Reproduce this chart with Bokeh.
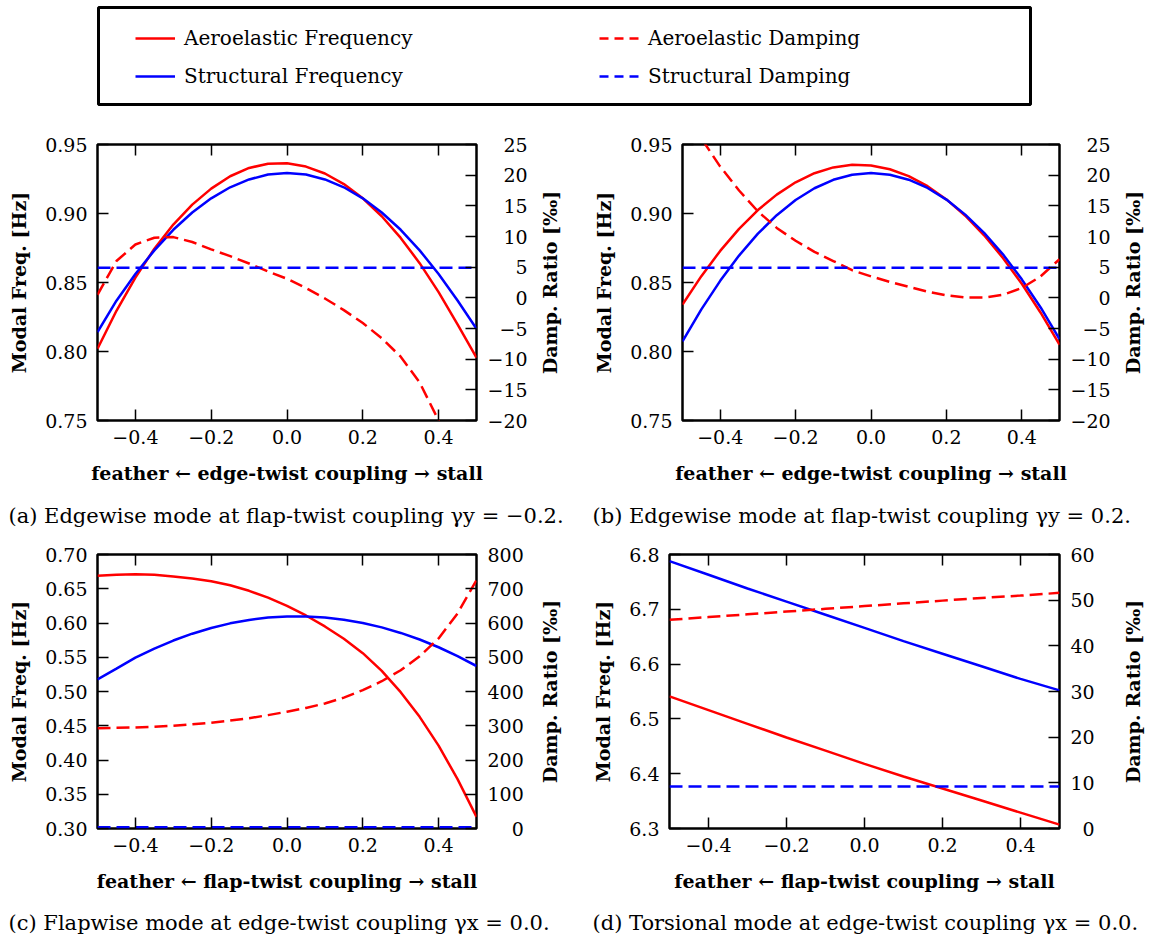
import math
from bokeh.plotting import figure
from bokeh.models import Range1d, LinearAxis, FixedTicker, Legend, LegendItem, Label, BoxAnnotation
from bokeh.layouts import column, row
from bokeh.embed import file_html
from bokeh.resources import INLINE

FONT = "DejaVu Serif"
RED = "#ff0000"
BLUE = "#0000ff"

# ---------------- data ----------------
coupling = [-0.50, -0.45, -0.40, -0.35, -0.30, -0.25, -0.20, -0.15, -0.10, -0.05, 0.00,
            0.05, 0.10, 0.15, 0.20, 0.25, 0.30, 0.35, 0.40, 0.45, 0.50]
coupling_d = [-0.5, -0.4, -0.3, -0.2, -0.1, 0.0, 0.1, 0.2, 0.3, 0.4, 0.5]

# (a) edgewise mode, flap-twist coupling -0.2
a_aero_freq = [0.802, 0.8295, 0.8535, 0.8745, 0.892, 0.9064, 0.918, 0.927, 0.933, 0.9361, 0.9364,
               0.934, 0.929, 0.9213, 0.911, 0.898, 0.8823, 0.864, 0.843, 0.8196, 0.7955]
a_struct_freq = [0.814, 0.8368, 0.8562, 0.8733, 0.8882, 0.9007, 0.911, 0.919, 0.9247, 0.9282, 0.9293,
                 0.9282, 0.9247, 0.919, 0.911, 0.9007, 0.8882, 0.8733, 0.8562, 0.837, 0.8164]
a_aero_damp = [0.5, 6.0, 8.7, 9.8, 9.9, 9.1, 7.9, 6.8, 5.6, 4.3, 3.1,
               1.6, -0.1, -2.0, -4.1, -6.6, -9.6, -13.8, -20.0, -28.0, -37.0]
a_struct_damp = [4.9] * 21

# (b) edgewise mode, flap-twist coupling 0.2
b_aero_freq = [0.834, 0.8546, 0.8729, 0.8889, 0.9025, 0.9137, 0.9226, 0.9292, 0.9334, 0.9353, 0.9348,
               0.9321, 0.9271, 0.9198, 0.9102, 0.8984, 0.8842, 0.8678, 0.8491, 0.8281, 0.8049]
b_struct_freq = [0.8073, 0.8305, 0.8512, 0.8695, 0.8854, 0.8988, 0.9098, 0.9183, 0.9244, 0.9281, 0.9293,
                 0.9281, 0.9245, 0.9185, 0.9101, 0.8992, 0.886, 0.8704, 0.8523, 0.8319, 0.809]
b_aero_damp = [31.0, 26.0, 21.4, 17.5, 14.1, 11.4, 9.3, 7.5, 6.0, 4.5, 3.5,
               2.6, 1.8, 1.0, 0.4, 0.05, 0.05, 0.5, 1.6, 3.5, 6.3]
b_struct_damp = [4.9] * 21

# (c) flapwise mode, edge-twist coupling 0.0
c_aero_freq = [0.669, 0.6705, 0.671, 0.6705, 0.668, 0.665, 0.661, 0.655, 0.647, 0.637, 0.625,
               0.611, 0.595, 0.577, 0.556, 0.530, 0.499, 0.463, 0.421, 0.372, 0.317]
c_struct_freq = [0.5176, 0.5334, 0.5494, 0.5627, 0.5744, 0.5844, 0.5928, 0.5995, 0.6045, 0.6079, 0.6096,
                 0.6096, 0.608, 0.6048, 0.6, 0.5936, 0.5855, 0.5759, 0.5646, 0.5517, 0.5372]
c_aero_damp = [293, 294, 295, 297, 300, 304, 309, 315, 322, 331, 341,
               352, 365, 382, 404, 430, 462, 503, 555, 628, 725]
c_struct_damp = [4.0] * 21

# (d) torsional mode, edge-twist coupling 0.0
d_aero_freq = [6.541, 6.516, 6.491, 6.466, 6.442, 6.418, 6.395, 6.373, 6.351, 6.329, 6.307]
d_struct_freq = [6.788, 6.763, 6.738, 6.714, 6.690, 6.666, 6.642, 6.619, 6.596, 6.573, 6.552]
d_aero_damp = [45.7, 46.3, 46.9, 47.5, 48.1, 48.7, 49.3, 49.9, 50.5, 51.0, 51.6]
d_struct_damp = [9.2] * 11

# ticks
x_ticks = [-0.4, -0.2, 0.0, 0.2, 0.4]
x_tick_labels = ["−0.4", "−0.2", "0.0", "0.2", "0.4"]
ab_freq_ticks = [0.75, 0.80, 0.85, 0.90, 0.95]
ab_freq_labels = ["0.75", "0.80", "0.85", "0.90", "0.95"]
ab_damp_ticks = [-20, -15, -10, -5, 0, 5, 10, 15, 20, 25]
ab_damp_labels = ["−20", "−15", "−10", "−5", "0", "5", "10", "15", "20", "25"]
c_freq_ticks = [0.30, 0.35, 0.40, 0.45, 0.50, 0.55, 0.60, 0.65, 0.70]
c_freq_labels = ["0.30", "0.35", "0.40", "0.45", "0.50", "0.55", "0.60", "0.65", "0.70"]
c_damp_ticks = [0, 100, 200, 300, 400, 500, 600, 700, 800]
c_damp_labels = ["0", "100", "200", "300", "400", "500", "600", "700", "800"]
d_freq_ticks = [6.3, 6.4, 6.5, 6.6, 6.7, 6.8]
d_freq_labels = ["6.3", "6.4", "6.5", "6.6", "6.7", "6.8"]
d_damp_ticks = [0, 10, 20, 30, 40, 50, 60]
d_damp_labels = ["0", "10", "20", "30", "40", "50", "60"]

legend_labels = ["Aeroelastic Frequency", "Structural Frequency",
                 "Aeroelastic Damping", "Structural Damping"]
captions = ["(a) Edgewise mode at flap-twist coupling γy = −0.2.",
            "(b) Edgewise mode at flap-twist coupling γy = 0.2.",
            "(c) Flapwise mode at edge-twist coupling γx = 0.0.",
            "(d) Torsional mode at edge-twist coupling γx = 0.0."]

TICK_FS = "19px"
LABEL_FS = "19px"
CAP_FS = "21px"
DASH = "13 6"
LW = 2.5


def right_align(labels):
    """Pad right-axis labels with figure/thin spaces so they line up on the right."""
    def w(s):
        return sum(0.838 if ch == "−" else 0.636 for ch in s)
    wmax = max(w(s) for s in labels)
    out = []
    for s in labels:
        d = wmax - w(s)
        n_fig = int(d / 0.636 + 1e-6)
        n_thin = int(round((d - n_fig * 0.636) / 0.2))
        out.append("\u2007" * n_fig + "\u2009" * n_thin + s)
    return out


def style_axis(ax, ticks, labels, show_labels=True):
    ax.ticker = FixedTicker(ticks=ticks)
    ax.axis_line_color = None
    ax.major_tick_in = 11
    ax.major_tick_out = 0
    ax.major_tick_line_color = "black"
    ax.major_tick_line_width = 1.5
    ax.minor_tick_line_color = None
    ax.major_label_text_font = FONT
    ax.major_label_text_color = "black"
    ax.axis_label_text_font = FONT
    ax.axis_label_text_font_size = LABEL_FS
    ax.axis_label_text_font_style = "bold"
    ax.axis_label_text_color = "black"
    if show_labels:
        ax.major_label_overrides = dict(zip(ticks, labels))
        ax.major_label_text_font_size = TICK_FS
    else:
        ax.major_label_overrides = {t: "" for t in ticks}
        ax.major_label_text_font_size = "0px"
        ax.major_label_standoff = 0


def blank(width, height, xr=(0, 1), yr=(0, 1)):
    """An empty drawing area (no axes) whose frame covers the whole canvas."""
    f = figure(width=width, height=height, x_range=Range1d(*xr), y_range=Range1d(*yr),
               output_backend="svg", toolbar_location=None, min_border=0,
               x_axis_location=None, y_axis_location=None)
    f.grid.visible = False
    f.outline_line_color = None
    f.background_fill_color = "white"
    f.border_fill_color = "white"
    return f


def panel(width, height, borders, ylim, yrlim, lticks, llabels, rticks, rlabels,
          xlabel, xs, series):
    bl, br, bt, bb = borders
    p = figure(width=width, height=height, x_range=Range1d(-0.5, 0.5), y_range=Range1d(*ylim),
               output_backend="svg", toolbar_location=None,
               min_border_left=bl, min_border_right=br, min_border_top=bt, min_border_bottom=bb)
    p.extra_y_ranges = {"damp": Range1d(*yrlim)}
    p.grid.visible = False
    p.outline_line_color = "black"
    p.outline_line_width = 2.5
    p.outline_line_alpha = 1.0
    p.background_fill_color = "white"
    p.border_fill_color = "white"

    bottom = p.below[0]
    left = p.left[0]
    right = LinearAxis(y_range_name="damp")
    top = LinearAxis()
    p.add_layout(right, "right")
    p.add_layout(top, "above")

    style_axis(bottom, x_ticks, x_tick_labels)
    style_axis(top, x_ticks, x_tick_labels, show_labels=False)
    style_axis(left, lticks, llabels)
    style_axis(right, rticks, right_align(rlabels))

    bottom.axis_label = xlabel
    bottom.major_label_standoff = 9
    bottom.axis_label_standoff = 15
    left.axis_label = "Modal Freq. [Hz]"
    left.major_label_standoff = 10
    left.axis_label_standoff = 12
    right.major_label_standoff = 11

    af, sf, ad, sd = series
    p.line(xs, af, color=RED, line_width=LW)
    p.line(xs, sf, color=BLUE, line_width=LW)
    p.line(xs, ad, color=RED, line_width=LW, line_dash=DASH, y_range_name="damp")
    p.line(xs, sd, color=BLUE, line_width=LW, line_dash=DASH, y_range_name="damp")
    return p


def right_title(width, height, x, y):
    # NB: inside a row the frame of this strip is aligned with the panels' frames
    s = blank(width, height)
    s.add_layout(Label(x=x, y=y, x_units="screen", y_units="screen",
                       text="Damp. Ratio [‰]", angle=math.pi / 2, text_align="center",
                       text_baseline="middle", text_font=FONT, text_font_size=LABEL_FS,
                       text_font_style="bold", text_color="black"))
    return s


def caption_strip(height, y, texts, xs):
    s = blank(1151, height)
    for t, x in zip(texts, xs):
        s.add_layout(Label(x=x, y=y, x_units="screen", y_units="screen", text=t,
                           text_align="left", text_baseline="middle", text_font=FONT,
                           text_font_size=CAP_FS, text_color="black"))
    return s


# row 1: y 125..495 ; frames at y 144..420
fa = panel(530, 370, (97, 54, 19, 75), (0.75, 0.95), (-20, 25), ab_freq_ticks, ab_freq_labels,
           ab_damp_ticks, ab_damp_labels, "feather ← edge-twist coupling → stall", coupling,
           (a_aero_freq, a_struct_freq, a_aero_damp, a_struct_damp))
sa = right_title(50, 370, 19, 138)
fb = panel(535, 370, (102, 56, 19, 75), (0.75, 0.95), (-20, 25), ab_freq_ticks, ab_freq_labels,
           ab_damp_ticks, ab_damp_labels, "feather ← edge-twist coupling → stall", coupling,
           (b_aero_freq, b_struct_freq, b_aero_damp, b_struct_damp))
sb = right_title(36, 370, 17, 138)
cap1 = caption_strip(40, 20, captions[:2], [8, 592])

# row 2: y 535..897 ; frames at y 554..828
fc = panel(530, 362, (97, 54, 19, 69), (0.30, 0.70), (0, 800), c_freq_ticks, c_freq_labels,
           c_damp_ticks, c_damp_labels, "feather ← flap-twist coupling → stall", coupling,
           (c_aero_freq, c_struct_freq, c_aero_damp, c_struct_damp))
sc = right_title(50, 362, 19, 137)
fd = panel(535, 362, (89, 56, 19, 69), (6.3, 6.8), (0, 60), d_freq_ticks, d_freq_labels,
           d_damp_ticks, d_damp_labels, "feather ← flap-twist coupling → stall", coupling_d,
           (d_aero_freq, d_struct_freq, d_aero_damp, d_struct_damp))
sd_ = right_title(36, 362, 17, 137)
cap2 = caption_strip(39, 14, captions[2:], [8, 592])

# ---------------- legend box ----------------
# ranges chosen far away from the data, so the legend renderers stay invisible
lg = blank(1151, 125, xr=(10, 11), yr=(10, 11))
lg.add_layout(BoxAnnotation(left=98, right=1030, bottom=21, top=118,
                            left_units="screen", right_units="screen",
                            bottom_units="screen", top_units="screen",
                            fill_alpha=0.0, line_color="black", line_alpha=1.0, line_width=3))
r1 = lg.line(coupling, a_aero_freq, color=RED, line_width=LW)
r2 = lg.line(coupling, a_struct_freq, color=BLUE, line_width=LW)
r3 = lg.line(coupling, a_aero_damp, color=RED, line_width=LW, line_dash="9 6")
r4 = lg.line(coupling, a_struct_damp, color=BLUE, line_width=LW, line_dash="9 6")


def make_legend(items, loc):
    return Legend(items=items, location=loc, padding=0, margin=0, spacing=14,
                  glyph_width=40, glyph_height=24, label_height=24, label_standoff=9,
                  label_text_font=FONT, label_text_font_size="20px", label_text_color="black",
                  border_line_color=None, background_fill_alpha=0.0)


lg.add_layout(make_legend([LegendItem(label=legend_labels[0], renderers=[r1]),
                           LegendItem(label=legend_labels[1], renderers=[r2])], (135, 37)))
lg.add_layout(make_legend([LegendItem(label=legend_labels[2], renderers=[r3]),
                           LegendItem(label=legend_labels[3], renderers=[r4])], (599, 37)))

layout = column(lg,
                row(fa, sa, fb, sb, spacing=0),
                cap1,
                row(fc, sc, fd, sd_, spacing=0),
                cap2,
                spacing=0)

open("out.html", "w").write(file_html(layout, INLINE))
